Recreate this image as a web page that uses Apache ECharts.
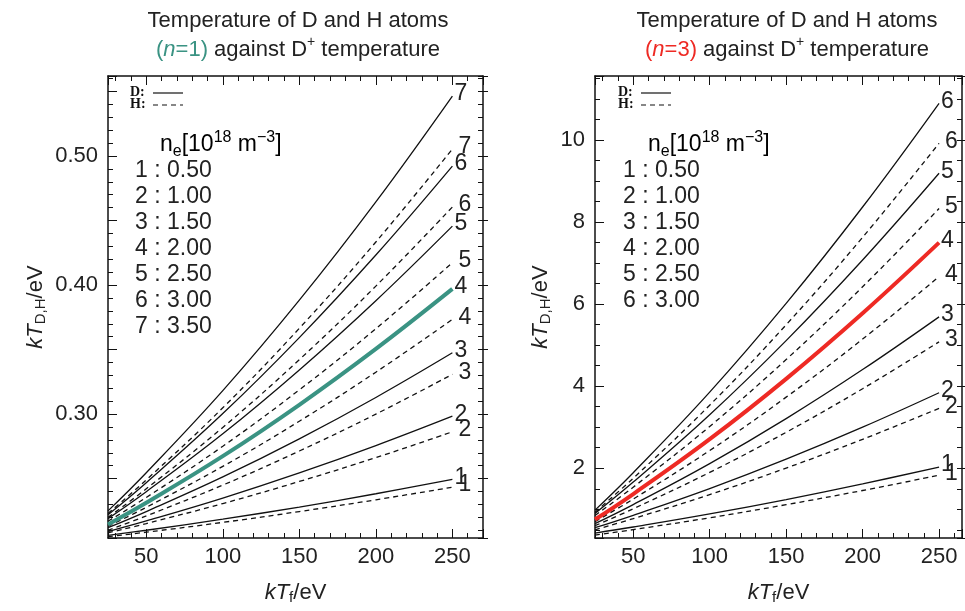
<!DOCTYPE html>
<html>
<head>
<meta charset="utf-8">
<script src="https://cdn.jsdelivr.net/npm/echarts@6/dist/echarts.min.js"></script>
<style>
  html, body { margin: 0; padding: 0; background: #fff; }
  #container { width: 965px; height: 611px; }
</style>
</head>
<body>
<div id="container"></div>
<script>
"use strict";

const xs = [25, 50, 100, 150, 200, 250];

// left panel, n=1 : D (solid) and H (dashed), density 1..7
const n1Solid = [
  [0.206, 0.2100, 0.2186, 0.2280, 0.2383, 0.2494],
  [0.209, 0.2172, 0.2349, 0.2544, 0.2756, 0.2984],
  [0.212, 0.2245, 0.2513, 0.2808, 0.3129, 0.3475],
  [0.2145, 0.2313, 0.2674, 0.3072, 0.3505, 0.397],
  [0.219, 0.2399, 0.2847, 0.3342, 0.3879, 0.4457],
  [0.222, 0.2469, 0.3004, 0.3593, 0.4233, 0.4922],
  [0.225, 0.2546, 0.3182, 0.3883, 0.4645, 0.5465],
];
const n1Dashed = [
  [0.205, 0.2085, 0.2161, 0.2245, 0.2336, 0.2434],
  [0.208, 0.2152, 0.2307, 0.2478, 0.2663, 0.2863],
  [0.210, 0.2211, 0.2450, 0.2714, 0.3000, 0.3308],
  [0.213, 0.2278, 0.2595, 0.2945, 0.3325, 0.3734],
  [0.217, 0.2354, 0.2751, 0.3188, 0.3662, 0.4173],
  [0.220, 0.2421, 0.2897, 0.3422, 0.3992, 0.4605],
  [0.223, 0.2490, 0.3049, 0.3665, 0.4334, 0.5054],
];

// right panel, n=3 : density 1..6
const n3Solid = [
  [0.42, 0.568, 0.887, 1.238, 1.619, 2.03],
  [0.55, 0.853, 1.504, 2.221, 3.001, 3.84],
  [0.65, 1.114, 2.112, 3.210, 4.405, 5.69],
  [0.75, 1.371, 2.708, 4.179, 5.779, 7.50],
  [0.90, 1.663, 3.304, 5.111, 7.076, 9.19],
  [0.98, 1.892, 3.855, 6.017, 8.367, 10.895],
];
const n3Dashed = [
  [0.37, 0.504, 0.793, 1.112, 1.458, 1.83],
  [0.50, 0.772, 1.358, 2.004, 2.705, 3.46],
  [0.60, 1.012, 1.899, 2.876, 3.938, 5.08],
  [0.70, 1.249, 2.431, 3.733, 5.148, 6.67],
  [0.85, 1.538, 3.019, 4.650, 6.423, 8.33],
  [0.93, 1.757, 3.537, 5.497, 7.628, 9.92],
];

const densities = ['0.50', '1.00', '1.50', '2.00', '2.50', '3.00', '3.50'];

const FONT = '"Liberation Sans", Arial, sans-serif';
const TXT = '#222';
const TEAL = '#3a9383';
const RED = '#ee2a24';
const FS = 23;

let myChart = echarts.init(document.getElementById('container'));

function isMult(v, step) {
  let r = v / step;
  return Math.abs(r - Math.round(r)) < 1e-6;
}

const nameRich = {
  i: { fontSize: 22, fontStyle: 'italic', color: TXT, fontFamily: FONT },
  sub: { fontSize: 15, color: TXT, fontFamily: FONT, verticalAlign: 'bottom', padding: [10, 0, 0, 0] },
  n: { fontSize: 22, color: TXT, fontFamily: FONT },
};

// four x axes and four y axes per grid: major/minor on both sides
function xAxes(grid, min, max) {
  let base = {
    type: 'value', gridIndex: grid, min: min, max: max,
    splitLine: { show: false },
    axisLine: { show: true, lineStyle: { color: '#111', width: 1.5 } },
  };
  return [
    Object.assign({}, base, {
      position: 'bottom', splitNumber: 5,
      axisTick: { inside: true, length: 9, lineStyle: { color: '#111' } },
      axisLabel: {
        margin: 8, fontSize: FS - 1, color: TXT, fontFamily: FONT,
        formatter: v => (isMult(v, 50) ? String(Math.round(v)) : ''),
      },
      name: '{i|kT}{sub|f}{n|/eV}', nameLocation: 'middle', nameGap: 42,
      nameTextStyle: { rich: nameRich },
    }),
    Object.assign({}, base, {
      position: 'bottom', splitNumber: 25,
      axisLine: { show: false },
      axisTick: { inside: true, length: 5, lineStyle: { color: '#111' } },
      axisLabel: { show: false },
    }),
    Object.assign({}, base, {
      position: 'top', splitNumber: 5,
      axisTick: { inside: true, length: 9, lineStyle: { color: '#111' } },
      axisLabel: { show: false },
    }),
    Object.assign({}, base, {
      position: 'top', splitNumber: 25,
      axisLine: { show: false },
      axisTick: { inside: true, length: 5, lineStyle: { color: '#111' } },
      axisLabel: { show: false },
    }),
  ];
}

function yAxes(grid, min, max, majorSplit, minorSplit, labelStep, digits, nameGap) {
  let base = {
    type: 'value', gridIndex: grid, min: min, max: max,
    splitLine: { show: false },
    axisLine: { show: true, lineStyle: { color: '#111', width: 1.5 } },
  };
  return [
    Object.assign({}, base, {
      position: 'left', splitNumber: majorSplit,
      axisTick: { inside: true, length: 9, lineStyle: { color: '#111' } },
      axisLabel: {
        margin: 10, fontSize: FS - 1, color: TXT, fontFamily: FONT,
        formatter: v => (isMult(v, labelStep) ? v.toFixed(digits) : ''),
      },
      name: '{i|kT}{sub|D,H}{n|/eV}', nameLocation: 'middle', nameGap: nameGap,
      nameTextStyle: { rich: nameRich },
    }),
    Object.assign({}, base, {
      position: 'left', splitNumber: minorSplit,
      axisLine: { show: false },
      axisTick: { inside: true, length: 5, lineStyle: { color: '#111' } },
      axisLabel: { show: false },
    }),
    Object.assign({}, base, {
      position: 'right', splitNumber: majorSplit,
      axisTick: { inside: false, length: 5, lineStyle: { color: '#111' } },
      axisLabel: { show: false },
    }),
    Object.assign({}, base, {
      position: 'right', splitNumber: minorSplit,
      axisLine: { show: false },
      axisTick: { inside: true, length: 5, lineStyle: { color: '#111' } },
      axisLabel: { show: false },
    }),
  ];
}

function makeSeries(values, dashed, axisIdx, highlight, hlColor) {
  return values.map((ys, i) => {
    let hl = !dashed && i === highlight;
    return {
      type: 'line',
      xAxisIndex: axisIdx, yAxisIndex: axisIdx,
      data: xs.map((x, j) => [x, ys[j]]),
      smooth: 0.4,
      symbol: 'none',
      silent: true,
      z: hl ? 5 : 2,
      lineStyle: {
        color: hl ? hlColor : '#111',
        width: hl ? 4 : 1.3,
        type: dashed ? [5, 4] : 'solid',
      },
      endLabel: {
        show: true,
        formatter: String(i + 1),
        fontSize: FS, color: TXT, fontFamily: FONT,
        distance: dashed ? 6 : 2,
        offset: [0, -2],
      },
    };
  });
}

function densityText(count) {
  let lines = [];
  for (let i = 0; i < count; i++) lines.push((i + 1) + ' : ' + densities[i]);
  return lines.join('\n');
}

const neRich = {
  t: { fontSize: FS, color: TXT, fontFamily: FONT, lineHeight: 30 },
  sub: { fontSize: 16, color: TXT, fontFamily: FONT, verticalAlign: 'bottom', lineHeight: 30, padding: [8, 0, 0, 0] },
  sup: { fontSize: 16, color: TXT, fontFamily: FONT, verticalAlign: 'top', lineHeight: 30 },
};
const neText = '{t|n}{sub|e}{t|[10}{sup|18}{t| m}{sup|−3}{t|]}';

function panelGraphics(left, count) {
  let serif = '"Liberation Serif", "DejaVu Serif", serif';
  return [
    { type: 'text', left: left + 22, top: 85,
      style: { text: 'D:', fontSize: 14, fontWeight: 'bold', fontFamily: serif, fill: '#111' } },
    { type: 'text', left: left + 22, top: 97,
      style: { text: 'H:', fontSize: 14, fontWeight: 'bold', fontFamily: serif, fill: '#111' } },
    { type: 'line', shape: { x1: left + 45, y1: 93, x2: left + 75, y2: 93 },
      style: { stroke: '#111', lineWidth: 1.2 } },
    { type: 'line', shape: { x1: left + 45, y1: 105, x2: left + 75, y2: 105 },
      style: { stroke: '#111', lineWidth: 1.2, lineDash: [5, 4] } },
    { type: 'text', left: left + 52, top: 130, style: { text: neText, rich: neRich } },
    { type: 'text', left: left + 27, top: 158,
      style: { text: densityText(count), fontSize: FS, lineHeight: 26, fill: TXT, fontFamily: FONT } },
  ];
}

const titleRich = {
  p: { fontSize: 22, color: TXT, fontFamily: FONT, fontWeight: 'normal', lineHeight: 29 },
  g: { fontSize: 22, color: TEAL, fontFamily: FONT, fontWeight: 'normal', lineHeight: 29 },
  gi: { fontSize: 22, color: TEAL, fontFamily: FONT, fontWeight: 'normal', fontStyle: 'italic', lineHeight: 29 },
  r: { fontSize: 22, color: RED, fontFamily: FONT, fontWeight: 'normal', lineHeight: 29 },
  ri: { fontSize: 22, color: RED, fontFamily: FONT, fontWeight: 'normal', fontStyle: 'italic', lineHeight: 29 },
  sup: { fontSize: 14, color: TXT, fontFamily: FONT, fontWeight: 'normal', verticalAlign: 'top', lineHeight: 29, padding: [0, 0, 8, 0] },
};

let option = {
  animation: false,
  title: [
    {
      text: '{p|Temperature of D and H atoms}\n{g|(}{gi|n}{g|=1)}{p| against D}{sup|+}{p| temperature}',
      left: 293, top: 1, textAlign: 'center',
      textStyle: { fontWeight: 'normal', rich: titleRich },
    },
    {
      text: '{p|Temperature of D and H atoms}\n{r|(}{ri|n}{r|=3)}{p| against D}{sup|+}{p| temperature}',
      left: 782, top: 1, textAlign: 'center',
      textStyle: { fontWeight: 'normal', rich: titleRich },
    },
  ],
  grid: [
    { left: 108, top: 76, width: 375, height: 462, show: false },
    { left: 595, top: 76, width: 368, height: 462, show: false },
  ],
  xAxis: [].concat(xAxes(0, 25, 270), xAxes(1, 25, 265)),
  yAxis: [].concat(
    yAxes(0, 0.204, 0.562, 7, 36, 0.1, 2, 60),
    yAxes(1, 0.3, 11.56, 6, 22, 2, 0, 42)
  ),
  graphic: [].concat(panelGraphics(108, 7), panelGraphics(596, 6)),
  series: [].concat(
    makeSeries(n1Solid, false, 0, 3, TEAL),
    makeSeries(n1Dashed, true, 0, -1, TEAL),
    makeSeries(n3Solid, false, 4, 3, RED),
    makeSeries(n3Dashed, true, 4, -1, RED)
  ),
};

myChart.setOption(option);
</script>
</body>
</html>
